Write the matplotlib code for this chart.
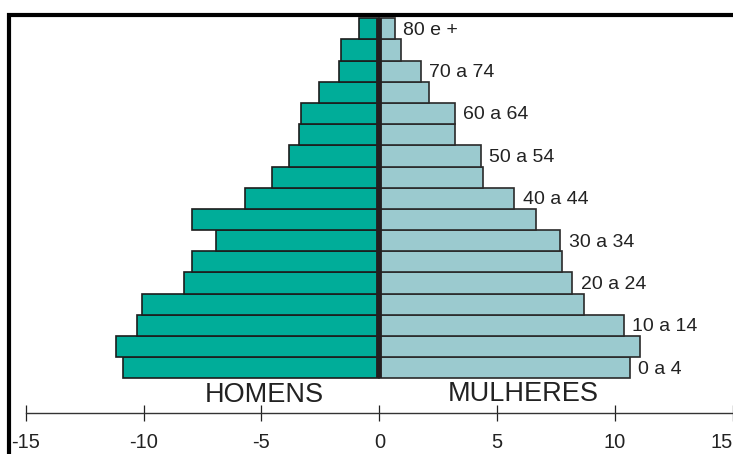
import matplotlib
matplotlib.use("Agg")
import matplotlib.pyplot as plt
from matplotlib.lines import Line2D

# ---- data ----
faixas = ['0 a 4', '5 a 9', '10 a 14', '15 a 19', '20 a 24', '25 a 29', '30 a 34',
          '35 a 39', '40 a 44', '45 a 49', '50 a 54', '55 a 59', '60 a 64',
          '65 a 69', '70 a 74', '75 a 79', '80 e +']
homens = [10.89, 11.15, 10.30, 10.05, 8.28, 7.95, 6.94, 7.95, 5.68, 4.57,
          3.82, 3.40, 3.31, 2.55, 1.70, 1.61, 0.86]
mulheres = [10.62, 11.05, 10.37, 8.68, 8.18, 7.76, 7.67, 6.66, 5.73, 4.38,
            4.30, 3.20, 3.20, 2.10, 1.76, 0.92, 0.67]
xticks = [-15, -10, -5, 0, 5, 10, 15]
xticklabels = ['-15', '-10', '-5', '0', '5', '10', '15']

plt.rcParams['font.family'] = ['Liberation Sans', 'DejaVu Sans']

W, H = 733, 454
fig = plt.figure(figsize=(W / 100, H / 100), dpi=100)
ax = fig.add_axes([0, 0, 1, 1])
ax.set_facecolor('none')

ypos = list(range(len(faixas)))
male_neg = [-v for v in homens]

ax.barh(ypos, male_neg, height=1.0, color='#00ad99', edgecolor='#1c1c1c',
        linewidth=1.2, zorder=2)
ax.barh(ypos, mulheres, height=1.0, color='#9bcacf', edgecolor='#2a2a2a',
        linewidth=1.2, zorder=2)
ax.vlines(0, -0.5, len(faixas) - 0.5, color='#231f20', linewidth=4.2, zorder=3)

# age labels on every other group
for i in range(0, len(faixas), 2):
    ax.annotate(faixas[i], xy=(mulheres[i], ypos[i]), xytext=(6, -1),
                textcoords='offset points', ha='left', va='center',
                fontsize=14, color='#222222')

ax.text(-4.88, -1.31, 'HOMENS', ha='center', va='center', fontsize=19.5,
        color='#222222')
ax.text(6.12, -1.23, 'MULHERES', ha='center', va='center', fontsize=19.5,
        color='#222222')

ax.set_xlim(-16.09, 14.905)
ax.set_ylim(-4.074, 17.364)

for s in ['top', 'left', 'right']:
    ax.spines[s].set_visible(False)
ax.spines['bottom'].set_position(('data', -2.152))
ax.spines['bottom'].set_bounds(-15, 16)
ax.spines['bottom'].set_color('#333333')
ax.spines['bottom'].set_linewidth(1.0)
ax.set_yticks([])
ax.set_xticks(xticks)
ax.set_xticklabels(xticklabels, fontsize=14.5, color='#222222')
ax.tick_params(axis='x', direction='inout', length=11, width=0.9,
               color='#222222', pad=8.5)
lbls = ax.get_xticklabels()
lbls[-1].set_horizontalalignment('right')

# partial outer frame (top and left borders)
fx = 8.7 / W
fy = 1 - 14.5 / H
fig.add_artist(Line2D([fx, fx, 1.0], [0.0, fy, fy], transform=fig.transFigure,
                      color='black', linewidth=3.0, solid_joinstyle='miter'))

fig.savefig('out.png', dpi=100)
